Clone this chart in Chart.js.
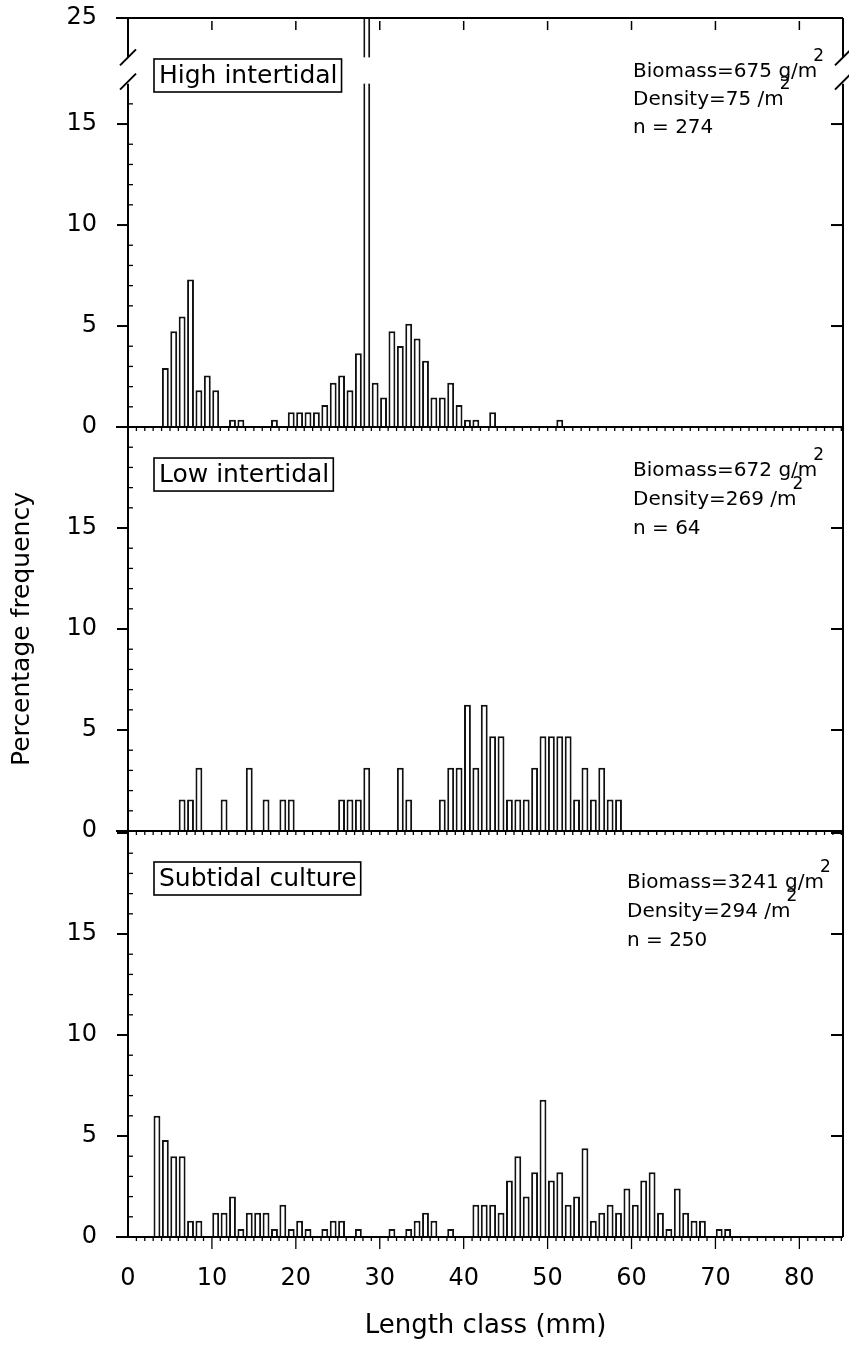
<!DOCTYPE html>
<html>
<head>
<meta charset="utf-8">
<script src="https://cdn.jsdelivr.net/npm/chart.js@4.4.1/dist/chart.umd.min.js"></script>
<style>
html,body{margin:0;padding:0;background:#fff;}
#wrap{width:849px;height:1345px;position:relative;}
canvas{display:block;}
</style>
</head>
<body>
<div id="wrap"><canvas id="c" width="849" height="1345"></canvas></div>
<script>
// ---------- data ----------
const xTickValues = [0, 10, 20, 30, 40, 50, 60, 70, 80];
const yTickValues = [0, 5, 10, 15];
const topBreakTickLabel = '25';

const panelNames = ['High intertidal', 'Low intertidal', 'Subtidal culture'];
const biomass = [675, 672, 3241];
const density = [75, 269, 294];
const sampleN = [274, 64, 250];

// High intertidal: length class (mm) and percentage frequency
const highClasses = [4,5,6,7,8,9,10,12,13,17,19,20,21,22,23,24,25,26,27,28,29,30,31,32,33,34,35,36,37,38,39,40,41,43,51];
const highPct     = [2.92,4.74,5.47,7.30,1.82,2.55,1.82,0.36,0.36,0.36,0.73,0.73,0.73,0.73,1.09,2.19,2.55,1.82,3.65,24.8,2.19,1.46,4.74,4.01,5.11,4.38,3.28,1.46,1.46,2.19,1.09,0.36,0.36,0.73,0.36];

// Low intertidal
const lowClasses = [6,7,8,11,14,16,18,19,25,26,27,28,32,33,37,38,39,40,41,42,43,44,45,46,47,48,49,50,51,52,53,54,55,56,57,58];
const lowPct     = [1.56,1.56,3.13,1.56,3.13,1.56,1.56,1.56,1.56,1.56,1.56,3.13,3.13,1.56,1.56,3.13,3.13,6.25,3.13,6.25,4.69,4.69,1.56,1.56,1.56,3.13,4.69,4.69,4.69,4.69,1.56,3.13,1.56,3.13,1.56,1.56];

// Subtidal culture
const subClasses = [3,4,5,6,7,8,10,11,12,13,14,15,16,17,18,19,20,21,23,24,25,27,31,33,34,35,36,38,41,42,43,44,45,46,47,48,49,50,51,52,53,54,55,56,57,58,59,60,61,62,63,64,65,66,67,68,70,71];
const subPct     = [6.0,4.8,4.0,4.0,0.8,0.8,1.2,1.2,2.0,0.4,1.2,1.2,1.2,0.4,1.6,0.4,0.8,0.4,0.4,0.8,0.8,0.4,0.4,0.4,0.8,1.2,0.8,0.4,1.6,1.6,1.6,1.2,2.8,4.0,2.0,3.2,6.8,2.8,3.2,1.6,2.0,4.4,0.8,1.2,1.6,1.2,2.4,1.6,2.8,3.2,1.2,0.4,2.4,1.2,0.8,0.8,0.4,0.4];

// ---------- chart ----------
const FONT = 'DejaVu Sans';
const BAR_OFFSET = 0.45;          // bar drawn inside its 1-mm class
const breakBand = [17.0, 18.3];   // top-panel value range hidden by the axis break

const toPoints = (cls, pct) => cls.map((c, i) => ({x: c + BAR_OFFSET, y: pct[i]}));

const barStyle = {
  backgroundColor: '#ffffff',
  borderColor: '#111111',
  borderWidth: 2,
  borderSkipped: 'start',
  barPercentage: 0.82,
  categoryPercentage: 1.0,
  grouped: false,
  clip: 0
};

const tickFont = {family: FONT, size: 24};

function yScale(max, weight, extraTop, title) {
  return {
    type: 'linear',
    position: 'left',
    stack: 'panels',
    stackWeight: max,
    weight: weight,
    min: 0,
    max: max,
    grid: {display: false, drawTicks: false, tickLength: 0},
    border: {display: false},
    afterBuildTicks: s => {
      const t = yTickValues.map(v => ({value: v}));
      if (extraTop) t.push({value: max});
      s.ticks = t;
    },
    afterFit: s => { s.width = 128; s.paddingTop = 0; s.paddingBottom = 0; },
    ticks: {
      padding: 31,
      color: '#000',
      font: tickFont,
      autoSkip: false,
      callback: v => (v > 16 ? topBreakTickLabel : String(v))
    },
    title: title ? {
      display: true, text: title, color: '#000',
      font: {family: FONT, size: 25}, padding: {top: 7, bottom: 0}
    } : {display: false}
  };
}

const panelLayout = [
  {box: 57, lines: [54, 82, 110], textX: 505},
  {box: 47, lines: [44, 73, 102], textX: 505},
  {box: 47, lines: [52, 81, 110], textX: 499}
];

const framePlugin = {
  id: 'frame',
  afterDatasetsDraw(chart) {
    const ctx = chart.ctx;
    const a = chart.chartArea;
    const xs = chart.scales.x;
    const panels = [chart.scales.yA, chart.scales.yB, chart.scales.yC];
    const yA = panels[0];
    ctx.save();

    const bTop = yA.getPixelForValue(breakBand[1]);
    const bBot = yA.getPixelForValue(breakBand[0]);
    ctx.fillStyle = '#fff';
    ctx.fillRect(a.left + 1, bTop, a.right - a.left - 2, bBot - bTop);

    ctx.strokeStyle = '#000';
    ctx.lineCap = 'butt';
    const line = (x1, y1, x2, y2, w) => {
      ctx.lineWidth = w || 2;
      ctx.beginPath(); ctx.moveTo(x1, y1); ctx.lineTo(x2, y2); ctx.stroke();
    };

    // vertical axes with break
    [a.left, a.right].forEach(X => {
      line(X, a.top, X, bTop);
      line(X, bBot, X, a.bottom);
      line(X - 8, bTop + 8, X + 8, bTop - 8);
      line(X - 8, bBot + 6, X + 8, bBot - 10);
    });

    // top axis
    line(a.left - 12, a.top, a.right, a.top);
    xTickValues.forEach(v => {
      if (v === 0) return;
      const px = xs.getPixelForValue(v);
      line(px, a.top + 3, px, a.top + 12, 1.5);
    });

    // panel bottoms (dividers and x axis)
    panels.forEach((s, i) => {
      const y0 = s.getPixelForValue(0);
      line(a.left - 12, y0, a.right, y0);
      for (let mm = 1; mm <= Math.floor(xs.max); mm++) {
        const px = xs.getPixelForValue(mm);
        const major = (i === 2 && mm % 10 === 0);
        line(px, y0, px, y0 + (major ? 12 : 4), 1.3);
      }
      // left major ticks (outside) and minor ticks (inside), right major ticks (inside)
      for (let v = 1; v < s.max; v++) {
        if (i === 0 && v >= breakBand[0] - 0.5) continue;
        const py = s.getPixelForValue(v);
        if (v % 5 === 0) {
          line(a.left - 11, py, a.left, py);
          line(a.right - 12, py, a.right, py);
        } else {
          line(a.left, py, a.left + 5, py, 1.3);
        }
      }
    });

    // panel labels and statistics
    panels.forEach((s, i) => {
      const L = panelLayout[i];
      const top = s.top;
      ctx.fillStyle = '#000';
      ctx.textBaseline = 'middle';
      ctx.textAlign = 'left';
      ctx.font = `25px "${FONT}"`;
      const tx = a.left + 31;
      const ty = top + L.box;
      const w = ctx.measureText(panelNames[i]).width;
      ctx.fillText(panelNames[i], tx, ty + 1);
      ctx.lineWidth = 1.6;
      ctx.strokeRect(tx - 5, ty - 16, w + 9, 33);

      const sx = a.left + L.textX;
      const lines = [
        {t: `Biomass=${biomass[i]} g/m`, sup: true},
        {t: `Density=${density[i]} /m`, sup: true},
        {t: `n = ${sampleN[i]}`, sup: false}
      ];
      lines.forEach((ln, k) => {
        const y = top + L.lines[k];
        ctx.font = `20px "${FONT}"`;
        ctx.fillText(ln.t, sx, y);
        if (ln.sup) {
          const ew = ctx.measureText(ln.t).width;
          ctx.font = `17px "${FONT}"`;
          ctx.fillText('2', sx + ew - 4, y - 15);
        }
      });
    });
    ctx.restore();
  }
};

new Chart(document.getElementById('c').getContext('2d'), {
  type: 'bar',
  data: {
    datasets: [
      Object.assign({label: panelNames[0], data: toPoints(highClasses, highPct), yAxisID: 'yA'}, barStyle),
      Object.assign({label: panelNames[1], data: toPoints(lowClasses, lowPct), yAxisID: 'yB'}, barStyle),
      Object.assign({label: panelNames[2], data: toPoints(subClasses, subPct), yAxisID: 'yC'}, barStyle)
    ]
  },
  options: {
    responsive: false,
    animation: false,
    devicePixelRatio: 1,
    layout: {padding: {top: 18, right: 6, left: 0, bottom: 0}},
    plugins: {legend: {display: false}, tooltip: {enabled: false}},
    scales: {
      x: {
        type: 'linear',
        position: 'bottom',
        offset: false,
        min: 0,
        max: 85.2,
        grid: {display: false, drawTicks: false, tickLength: 0, offset: false},
        border: {display: false},
        afterBuildTicks: s => { s.ticks = xTickValues.map(v => ({value: v})); },
        afterFit: s => { s.height = 108; s.paddingLeft = 0; s.paddingRight = 0; },
        ticks: {padding: 27, color: '#000', font: tickFont, maxRotation: 0, autoSkip: false, callback: v => String(v)},
        title: {display: true, text: 'Length class (mm)', color: '#000', font: {family: FONT, size: 26}, padding: {top: 0, bottom: 3}}
      },
      yA: yScale(20.25, 3, true, null),
      yB: yScale(20, 2, false, 'Percentage frequency'),
      yC: yScale(20.1, 1, false, null)
    }
  },
  plugins: [framePlugin]
});
</script>
</body>
</html>
